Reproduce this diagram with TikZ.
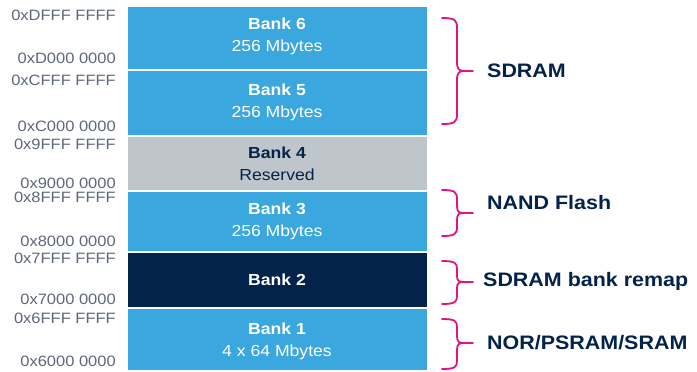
\documentclass[tikz,border=0pt]{standalone}
\usepackage{fontspec}
\setmainfont{Liberation Sans}[FakeStretch=1.1]
\definecolor{bankblue}{HTML}{3AA8DE}
\definecolor{navy}{HTML}{03234B}
\definecolor{resgray}{HTML}{BEC5CB}
\definecolor{addr}{HTML}{5E677A}
\definecolor{pinkb}{HTML}{E2137E}
\begin{document}
\begin{tikzpicture}[x=1pt,y=-1pt,
  bank/.style={draw=none,inner sep=0pt,outer sep=0pt,anchor=north west},
  addrtxt/.style={text=addr,font=\fontsize{15}{15}\selectfont,anchor=east,inner sep=0pt},
  banktxt/.style={font=\fontsize{16}{22}\selectfont,align=center,inner sep=0pt},
  lbl/.style={text=navy,font=\bfseries\fontsize{19.5}{19.5}\selectfont,anchor=west,inner sep=0pt},
  brace/.style={draw=pinkb,line width=1.8pt,line cap=round,line join=round}]
\useasboundingbox (0,0) rectangle (697,372);
\fill[white] (0,0) rectangle (697,372);
% banks
\node[bank,fill=bankblue,minimum width=299pt,minimum height=62pt] (b6) at (128,7) {};
\node[bank,fill=bankblue,minimum width=299pt,minimum height=64pt] (b5) at (128,71) {};
\node[bank,fill=resgray,minimum width=299pt,minimum height=53pt] (b4) at (128,137) {};
\node[bank,fill=bankblue,minimum width=299pt,minimum height=59pt] (b3) at (128,192) {};
\node[bank,fill=navy,minimum width=299pt,minimum height=54pt] (b2) at (128,253) {};
\node[bank,fill=bankblue,minimum width=299pt,minimum height=61pt] (b1) at (128,309) {};
% bank texts
\node[banktxt,text=white] (t6) at (277,36) {\textbf{Bank 6}\\256 Mbytes};
\node[banktxt,text=white] (t5) at (277,102) {\textbf{Bank 5}\\256 Mbytes};
\node[banktxt,text=navy] (t4) at (277,164) {\textbf{Bank 4}\\Reserved};
\node[banktxt,text=white] (t3) at (277,221) {\textbf{Bank 3}\\256 Mbytes};
\node[banktxt,text=white] (t2) at (277,280) {\textbf{Bank 2}};
\node[banktxt,text=white] (t1) at (277,341) {\textbf{Bank 1}\\4 x 64 Mbytes};
% addresses
\node[addrtxt] (a6h) at (116,15) {0xDFFF FFFF};
\node[addrtxt] (a6l) at (116,58) {0xD000 0000};
\node[addrtxt] (a5h) at (116,80) {0xCFFF FFFF};
\node[addrtxt] (a5l) at (116,126) {0xC000 0000};
\node[addrtxt] (a4h) at (116,144) {0x9FFF FFFF};
\node[addrtxt] (a4l) at (116,183) {0x9000 0000};
\node[addrtxt] (a3h) at (116,197) {0x8FFF FFFF};
\node[addrtxt] (a3l) at (116,241) {0x8000 0000};
\node[addrtxt] (a2h) at (116,258) {0x7FFF FFFF};
\node[addrtxt] (a2l) at (116,299) {0x7000 0000};
\node[addrtxt] (a1h) at (116,318) {0x6FFF FFFF};
\node[addrtxt] (a1l) at (116,361) {0x6000 0000};
% braces
\draw[brace] (442,18) .. controls (455,18) and (457,20) .. (457,28) -- (457,62)
  .. controls (457,69) and (459,71) .. (464,71) -- (473,71);
\draw[brace] (442,124) .. controls (455,124) and (457,122) .. (457,114) -- (457,80)
  .. controls (457,73) and (459,71) .. (464,71);
\draw[brace] (442,190) .. controls (455,190) and (457,192) .. (457,199) -- (457,206)
  .. controls (457,212) and (459,213) .. (464,213) -- (473,213);
\draw[brace] (442,236) .. controls (455,236) and (457,234) .. (457,227) -- (457,220)
  .. controls (457,214) and (459,213) .. (464,213);
\draw[brace] (442,261) .. controls (455,261) and (457,263) .. (457,269) -- (457,276)
  .. controls (457,281) and (459,282) .. (464,282) -- (473,282);
\draw[brace] (442,304) .. controls (455,304) and (457,302) .. (457,296) -- (457,288)
  .. controls (457,283) and (459,282) .. (464,282);
\draw[brace] (442,319) .. controls (455,319) and (457,321) .. (457,327) -- (457,336)
  .. controls (457,342) and (459,343) .. (464,343) -- (473,343);
\draw[brace] (442,369) .. controls (455,369) and (457,367) .. (457,361) -- (457,350)
  .. controls (457,344) and (459,343) .. (464,343);
% labels
\node[lbl] (l1) at (487,71) {SDRAM};
\node[lbl] (l2) at (487,203) {NAND Flash};
\node[lbl] (l3) at (483,281) {SDRAM bank remap};
\node[lbl] (l4) at (487,343) {NOR/PSRAM/SRAM};
\end{tikzpicture}
\end{document}
